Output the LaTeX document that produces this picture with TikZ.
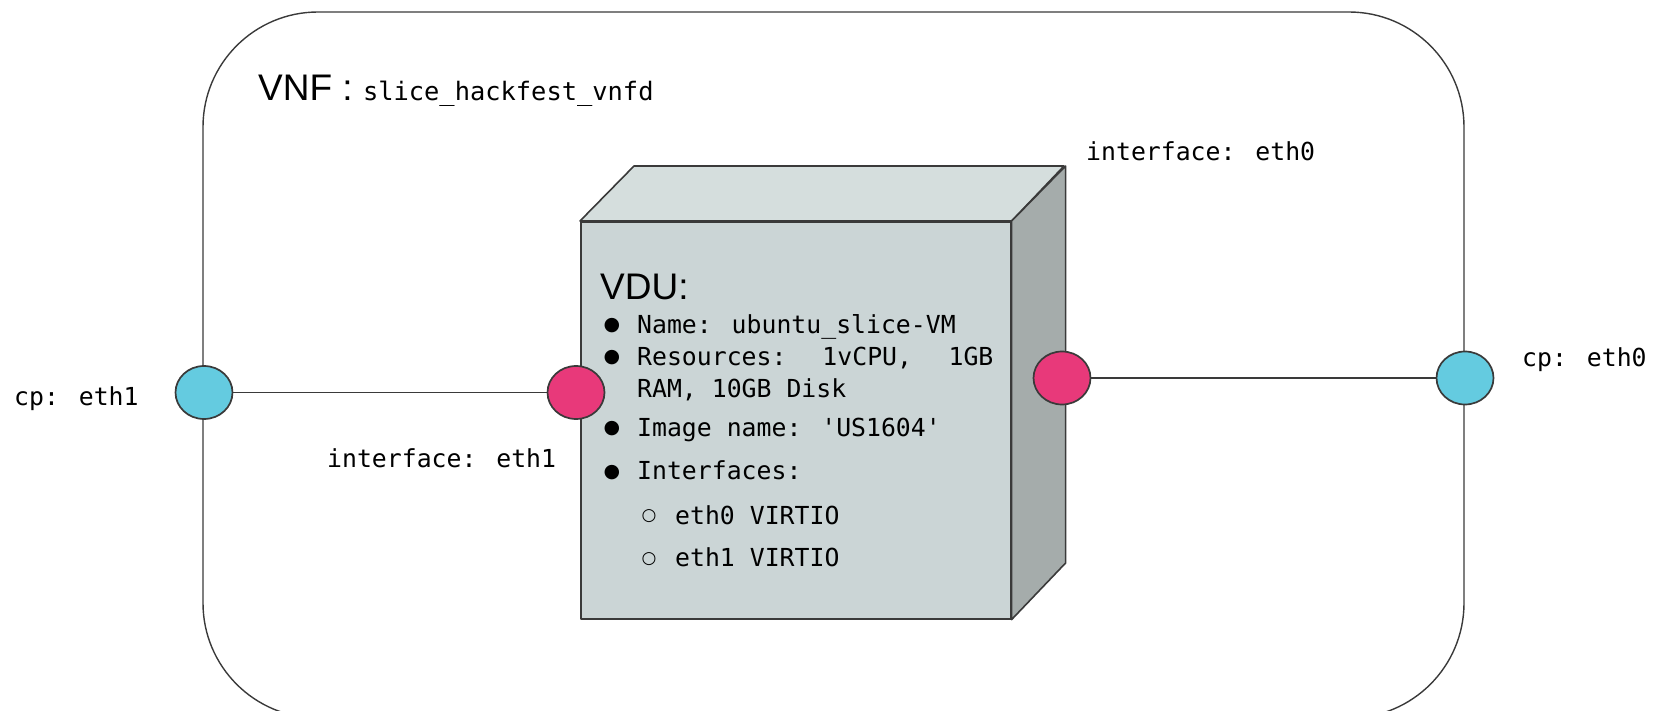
\documentclass[tikz,border=0pt]{standalone}
\usepackage{fontspec}
\setmainfont{Liberation Sans}
\newfontfamily\sansf{Liberation Sans}
\newfontfamily\monof{DejaVu Sans Mono}
\newfontfamily\symf{DejaVu Sans}
\usetikzlibrary{shapes.geometric}
\definecolor{linec}{HTML}{3A3A3A}
\definecolor{frontc}{HTML}{CBD5D6}
\definecolor{topc}{HTML}{D5DEDD}
\definecolor{sidec}{HTML}{A5ACAB}
\definecolor{pinkc}{HTML}{E8397A}
\definecolor{cyanc}{HTML}{64CBE0}
\tikzset{
  big/.style={font=\sansf\fontsize{37}{44}\selectfont, inner sep=0, anchor=base west},
  mono/.style={font=\monof\fontsize{24.8}{30}\selectfont, inner sep=0, anchor=base west},
  bul/.style={font=\symf\fontsize{19}{22}\selectfont, inner sep=0, anchor=center},
  ring/.style={font=\symf\fontsize{17}{20}\selectfont, inner sep=0, anchor=center},
  port/.style={ellipse, draw=linec, line width=1.7pt, minimum width=57pt, minimum height=53pt, inner sep=0},
  cpport/.style={port, fill=cyanc},
  ifport/.style={port, fill=pinkc},
  wire/.style={draw=linec, line width=1.7pt},
  facec/.style={draw=linec, line width=1.6pt, line join=round}
}
\begin{document}
\begin{tikzpicture}[x=1pt,y=-1pt]
\useasboundingbox (0,0) rectangle (1662,711);
\begin{scope}
\clip (0,0) rectangle (1662,711);
% outer VNF frame
\draw[draw=linec, line width=1.4pt, rounded corners=115pt] (203,12) rectangle (1464,718);
% VDU cube
\node[facec, fill=frontc, minimum width=430pt, minimum height=397pt, anchor=north west, inner sep=0] (vdu) at (580,221) {};
\draw[facec, fill=topc] (vdu.north west) -- ++(54,-55) -- ++(430,0) -- (vdu.north east) -- cycle;
\draw[facec, fill=sidec] (vdu.north east) -- ++(54,-55) -- ++(0,397) -- (vdu.south east) -- cycle;
\end{scope}
% ports
\node[cpport] (cpL) at (204,392.5) {};
\node[ifport] (ifL) at (576,392.5) {};
\node[ifport] (ifR) at (1062,378) {};
\node[cpport] (cpR) at (1465,378) {};
\draw[wire] (cpL) -- (ifL);
\draw[wire] (ifR) -- (cpR);
% labels
\node[big] (vnf) at (258,101) {VNF : {\monof\fontsize{25.4}{30}\selectfont slice\_hackfest\_vnfd}};
\node[mono] (lif0) at (1086,161) {interface: eth0};
\node[mono] (lif1) at (327,467) {interface: eth1};
\node[mono] (lcp1) at (14,405) {cp: eth1};
\node[mono] (lcp0) at (1522,366) {cp: eth0};
% VDU text
\node[big] (vdut) at (600,300) {VDU:};
\node[bul] (b1) at (612,326) {●};
\node[mono] (t1) at (637,333) {Name: ubuntu\_slice-VM};
\node[bul] (b2) at (612,358) {●};
\node[mono] (t2) at (637,365) {Resources:\hspace{36pt}1vCPU,\hspace{36.5pt}1GB};
\node[mono] (t2b) at (637,397) {RAM, 10GB Disk};
\node[bul] (b3) at (612,429) {●};
\node[mono] (t3) at (637,436) {Image name: 'US1604'};
\node[bul] (b4) at (612,472.5) {●};
\node[mono] (t4) at (637,479) {Interfaces:};
\node[ring] (c1) at (649,516) {○};
\node[mono] (t5) at (675,524) {eth0 VIRTIO};
\node[ring] (c2) at (649,559) {○};
\node[mono] (t6) at (675,566) {eth1 VIRTIO};
\end{tikzpicture}
\end{document}
